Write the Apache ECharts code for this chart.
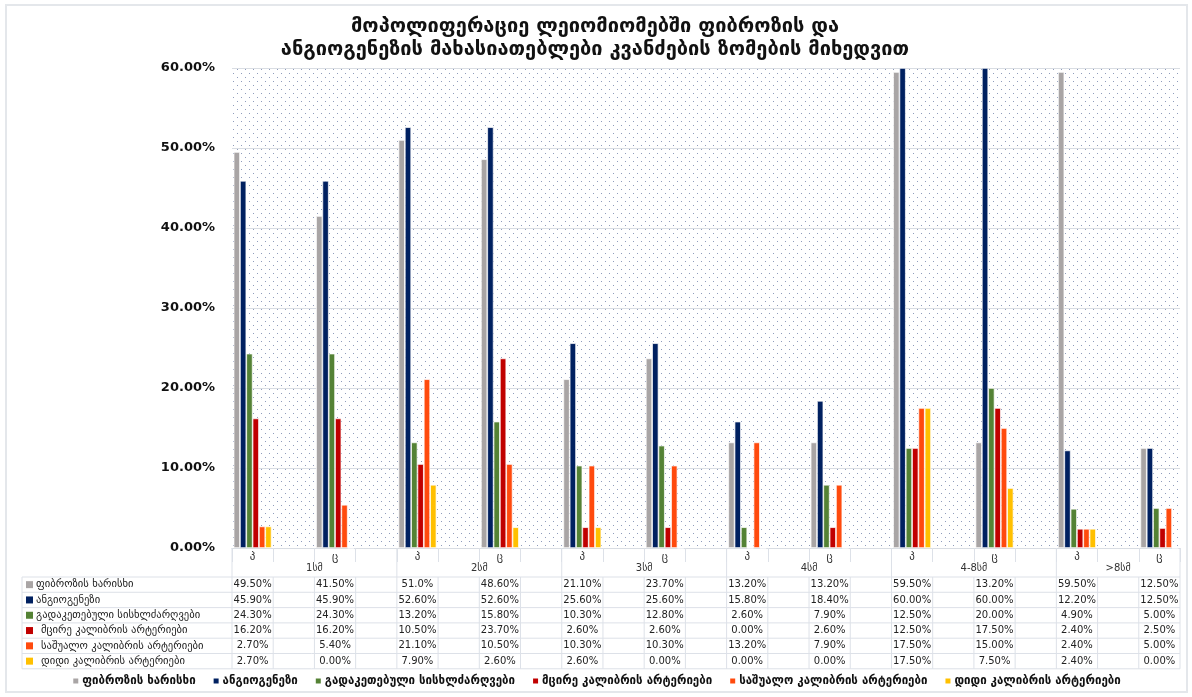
<!DOCTYPE html>
<html>
<head>
<meta charset="utf-8">
<script src="https://cdn.jsdelivr.net/npm/echarts@6/dist/echarts.min.js"></script>
<style>
  html, body { margin: 0; padding: 0; background: #fff; }
  #chart { width: 1192px; height: 697px; }
</style>
</head>
<body>
<div id="chart"></div>
<script>
// Slots along the category axis: each size group has a "პ" and a "ც" column with blank spacers
const groups = ['1სმ', '2სმ', '3სმ', '4სმ', '4-8სმ', '>8სმ'];
const groupSlotCount = [4, 4, 4, 4, 4, 3];
const subLabels = ['პ', 'ც'];

const seriesNames = [
  'ფიბროზის ხარისხი',
  'ანგიოგენეზი',
  'გადაკეთებული სისხლძარღვები',
  'მცირე კალიბრის არტერიები',
  'საშუალო კალიბრის არტერიები',
  'დიდი კალიბრის არტერიები'
];
const seriesColors = ['#A9A5A5', '#002060', '#548235', '#C00000', '#FF4A0D', '#FFC000'];

// Values in percent, ordered: 1სმ პ, 1სმ ც, 2სმ პ, 2სმ ც, ... >8სმ პ, >8სმ ც
const fibrosis = ['49.50', '41.50', '51.0', '48.60', '21.10', '23.70', '13.20', '13.20', '59.50', '13.20', '59.50', '12.50'];
const angiogenesis = ['45.90', '45.90', '52.60', '52.60', '25.60', '25.60', '15.80', '18.40', '60.00', '60.00', '12.20', '12.50'];
const remodeledVessels = ['24.30', '24.30', '13.20', '15.80', '10.30', '12.80', '2.60', '7.90', '12.50', '20.00', '4.90', '5.00'];
const smallArteries = ['16.20', '16.20', '10.50', '23.70', '2.60', '2.60', '0.00', '2.60', '12.50', '17.50', '2.40', '2.50'];
const mediumArteries = ['2.70', '5.40', '21.10', '10.50', '10.30', '10.30', '13.20', '7.90', '17.50', '15.00', '2.40', '5.00'];
const largeArteries = ['2.70', '0.00', '7.90', '2.60', '2.60', '0.00', '0.00', '0.00', '17.50', '7.50', '2.40', '0.00'];

const yTicks = [0, 10, 20, 30, 40, 50, 60];

const allSeries = [fibrosis, angiogenesis, remodeledVessels, smallArteries, mediumArteries, largeArteries];

// Build slot labels and the slot index of each value
const slotLabels = [];
const valueSlots = [];
const groupSpans = [];
groups.forEach((g, gi) => {
  const start = slotLabels.length;
  for (let k = 0; k < groupSlotCount[gi]; k++) {
    if (k % 2 === 0) {
      slotLabels.push(subLabels[k / 2]);
      valueSlots.push(slotLabels.length - 1);
    } else {
      slotLabels.push('');
    }
  }
  groupSpans.push([start, slotLabels.length]);
});

function toSlots(arr) {
  const out = slotLabels.map(() => null);
  arr.forEach((v, i) => { out[valueSlots[i]] = Number(v); });
  return out;
}

// Staggered dot fill for the plot background
function dotPattern() {
  const c = document.createElement('canvas');
  c.width = 8; c.height = 8;
  const ctx = c.getContext('2d');
  ctx.fillStyle = 'rgba(31, 58, 120, 0.5)';
  ctx.fillRect(1, 1, 1, 1);
  ctx.fillRect(5, 5, 1, 1);
  return c;
}

const FONT = '"DejaVu Sans", Verdana, sans-serif';
const chart = echarts.init(document.getElementById('chart'), null, { renderer: 'canvas' });

const option = {
  animation: false,
  backgroundColor: '#fff',
  title: {
    text: 'მოპოლიფერაციე ლეიომიომებში ფიბროზის და\nანგიოგენეზის მახასიათებლები კვანძების ზომების მიხედვით',
    left: 590,
    textAlign: 'center',
    top: 10,
    textStyle: { fontFamily: FONT, fontSize: 20, fontWeight: 'bold', color: '#111', lineHeight: 23 }
  },
  legend: {
    data: seriesNames,
    bottom: 5,
    left: 'center',
    icon: 'rect',
    itemWidth: 7,
    itemHeight: 7,
    itemGap: 16,
    textStyle: { fontFamily: FONT, fontSize: 11.5, fontWeight: 'bold', color: '#111', padding: [0, 0, 0, -2] }
  },
  grid: {
    left: 232,
    right: 12,
    top: 68,
    bottom: 149,
    show: true,
    borderWidth: 0,
    backgroundColor: { image: dotPattern(), repeat: 'repeat' }
  },
  xAxis: {
    type: 'category',
    data: slotLabels,
    axisLine: { show: true, lineStyle: { color: '#d9dde3', width: 1 } },
    axisTick: { show: true, interval: 0, length: 14, lineStyle: { color: '#dde1e8' } },
    axisLabel: { interval: 0, margin: 4, fontFamily: FONT, fontSize: 11, color: '#333' }
  },
  yAxis: {
    type: 'value',
    min: yTicks[0],
    max: yTicks[yTicks.length - 1],
    interval: 10,
    axisLine: { show: false },
    axisTick: { show: false },
    splitLine: { lineStyle: { color: '#d9dde3', width: 1 } },
    axisLabel: {
      margin: 17,
      fontFamily: FONT,
      fontSize: 13,
      fontWeight: 'bold',
      color: '#111',
      formatter: v => v.toFixed(2) + '%'
    }
  },
  series: allSeries.map((arr, i) => ({
    name: seriesNames[i],
    type: 'bar',
    data: toSlots(arr),
    barCategoryGap: '8%',
    barGap: '0%',
    itemStyle: { color: seriesColors[i], borderColor: '#fff', borderWidth: 0.7 }
  }))
};

chart.setOption(option);

// Data table and group headers beneath the plot, aligned with the category slots
function buildTable() {
  const c0 = chart.convertToPixel({ xAxisIndex: 0 }, 0);
  const c1 = chart.convertToPixel({ xAxisIndex: 0 }, 1);
  const w = c1 - c0;
  const x0 = c0 - w / 2;
  const xEnd = x0 + w * slotLabels.length;
  const yBase = chart.convertToPixel({ yAxisIndex: 0 }, 0);
  const headTop = yBase;
  const rowsTop = yBase + 29;
  const rowH = 15.3;
  const headLeft = 22;
  const lineColor = '#dde1e8';
  const els = [];
  const line = (x1, y1, x2, y2) => els.push({
    type: 'line', silent: true,
    shape: { x1: x1, y1: y1, x2: x2, y2: y2 },
    style: { stroke: lineColor, lineWidth: 1 }
  });

  // group boundaries and group labels
  groupSpans.forEach((span, gi) => {
    const xa = x0 + span[0] * w;
    const xb = x0 + span[1] * w;
    line(xa, headTop, xa, rowsTop);
    els.push({
      type: 'text', silent: true,
      x: (xa + xb) / 2, y: headTop + 20,
      style: { text: groups[gi], fontFamily: FONT, fontSize: 10, fill: '#333', align: 'center', verticalAlign: 'middle' }
    });
  });
  line(xEnd, headTop, xEnd, rowsTop);

  // horizontal rules
  for (let r = 0; r <= allSeries.length; r++) {
    const y = rowsTop + r * rowH;
    line(headLeft, y, xEnd, y);
  }
  // vertical rules
  const rowsBottom = rowsTop + allSeries.length * rowH;
  line(headLeft, rowsTop, headLeft, rowsBottom);
  for (let k = 0; k <= slotLabels.length; k++) {
    const x = x0 + k * w;
    line(x, rowsTop, x, rowsBottom);
  }

  // row headers with color keys
  const textIndent = [36, 36, 36, 41, 41, 41];
  allSeries.forEach((arr, r) => {
    const yc = rowsTop + (r + 0.5) * rowH;
    els.push({
      type: 'rect', silent: true,
      shape: { x: 26, y: yc - 3.5, width: 7, height: 7 },
      style: { fill: seriesColors[r] }
    });
    els.push({
      type: 'text', silent: true,
      x: textIndent[r], y: yc,
      style: { text: seriesNames[r], fontFamily: FONT, fontSize: 10.6, fill: '#222', verticalAlign: 'middle' }
    });
    arr.forEach((v, i) => {
      const xc = x0 + (valueSlots[i] + 0.5) * w;
      els.push({
        type: 'text', silent: true,
        x: xc, y: yc,
        style: { text: v + '%', fontFamily: FONT, fontSize: 10, fill: '#222', align: 'center', verticalAlign: 'middle' }
      });
    });
  });

  // outer chart frame
  els.push({
    type: 'rect', silent: true,
    shape: { x: 6, y: 5, width: 1181, height: 687 },
    style: { fill: 'none', stroke: '#e4e7eb', lineWidth: 2 }
  });

  chart.setOption({ graphic: { elements: els } });
}

buildTable();
</script>
</body>
</html>
